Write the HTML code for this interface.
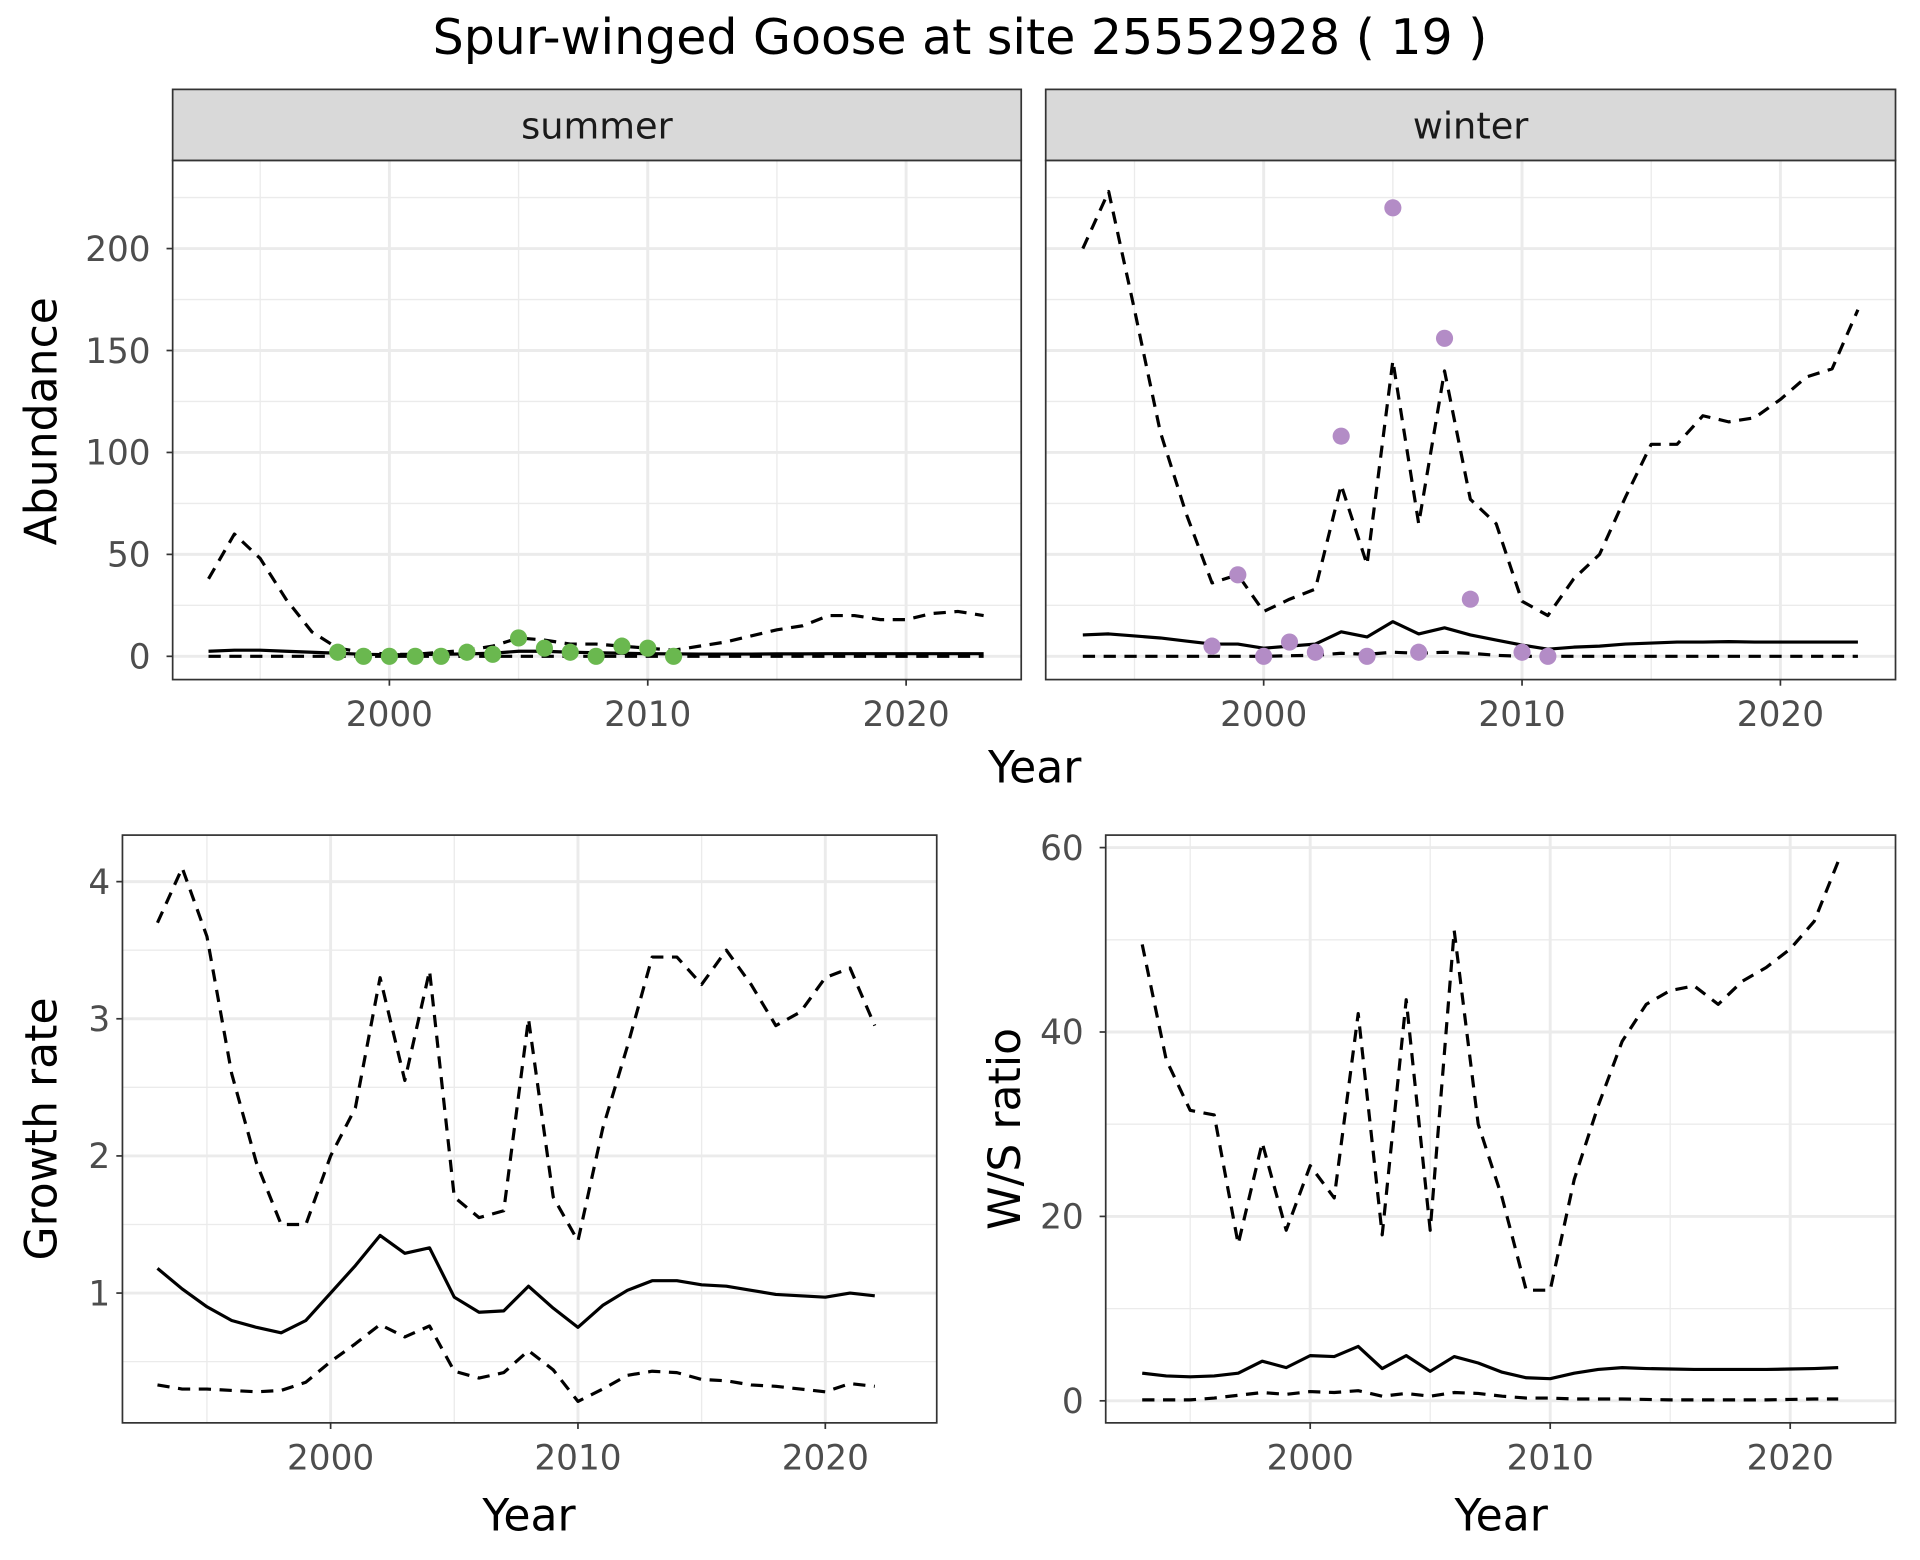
<!DOCTYPE html>
<html><head><meta charset="utf-8"><style>
html,body{margin:0;padding:0;background:#fff;}
svg{display:block;font-family:"DejaVu Sans","Liberation Sans",sans-serif;}
</style></head><body>
<svg id="chart" width="1920" height="1560" viewBox="0 0 1568 1274" xmlns="http://www.w3.org/2000/svg">
<rect width="1568" height="1274" fill="#fff"/>
<text x="784" y="44" text-anchor="middle" font-size="40" fill="#000">Spur-winged Goose at site 25552928 ( 19 )</text>
<g id="root"></g>
</svg>
<script>
const years31 = [1993,1994,1995,1996,1997,1998,1999,2000,2001,2002,2003,2004,2005,2006,2007,2008,2009,2010,2011,2012,2013,2014,2015,2016,2017,2018,2019,2020,2021,2022,2023];
const summerUpper = [38,60,48,28,12,4,2,1,1,2,3,5,9,8,6,6,5,4,3,5,7,10,13,15,20,20,18,18,21,22,20];
const summerMean = [2.5,3,3,2.5,2,1.5,1,0.8,0.8,1,1.2,1.5,2.5,2.5,2,1.8,1.5,1.3,1.2,1.1,1.1,1.1,1.2,1.2,1.3,1.3,1.3,1.3,1.3,1.3,1.3];
const summerLower = [0,0,0,0,0,0,0,0,0,0,0,0,0,0,0,0,0,0,0,0,0,0,0,0,0,0,0,0,0,0,0];
const summerPtYears = [1998,1999,2000,2001,2002,2003,2004,2005,2006,2007,2008,2009,2010,2011];
const summerPtVals = [2,0,0,0,0,2,1,9,4,2,0,5,4,0];
const winterUpper = [200,228,170,110,70,36,40,22,28,33,84,45,145,65,140,77,65,27,20,38,50,78,104,104,118,115,117,126,137,141,170];
const winterMean = [10.5,11,10,9,7.5,6,6,4,5,6,12,9.5,17,11,14,10.5,8,5.5,3.5,4.5,5,6,6.5,7,7,7.2,7,7,7,7,7];
const winterLower = [0,0,0,0,0,0,0,0,0.3,0.5,1.5,1,2,1.5,2,1.5,0.5,0,0,0,0,0,0,0,0,0,0,0,0,0,0];
const winterPtYears = [1998,1999,2000,2001,2002,2003,2004,2005,2006,2007,2008,2010,2011];
const winterPtVals = [5,40,0,7,2,108,0,220,2,156,28,2,0];
const years30 = years31.slice(0,30);
const growthUpper = [3.7,4.1,3.6,2.6,1.95,1.5,1.5,2.0,2.35,3.3,2.55,3.35,1.7,1.55,1.6,3.0,1.7,1.38,2.2,2.8,3.45,3.45,3.25,3.5,3.25,2.95,3.05,3.3,3.37,2.95];
const growthMean = [1.18,1.03,0.9,0.8,0.75,0.71,0.8,1.0,1.2,1.42,1.29,1.33,0.97,0.86,0.87,1.05,0.89,0.75,0.91,1.02,1.09,1.09,1.06,1.05,1.02,0.99,0.98,0.97,1.0,0.98];
const growthLower = [0.33,0.3,0.3,0.29,0.28,0.29,0.35,0.5,0.63,0.77,0.68,0.76,0.43,0.38,0.42,0.58,0.44,0.21,0.3,0.4,0.43,0.42,0.37,0.36,0.33,0.32,0.3,0.28,0.34,0.32];
const wsUpper = [49.5,37,31.5,31,17,28,18.5,25.5,22,42,18,43.5,18.5,51,30,22,12,12,24,32,39,43,44.5,45,43,45.5,47,49,52,58.5];
const wsMean = [3,2.7,2.6,2.7,3,4.3,3.6,4.9,4.8,5.9,3.5,4.9,3.2,4.8,4.1,3.1,2.5,2.4,3,3.4,3.6,3.5,3.45,3.4,3.4,3.4,3.4,3.45,3.5,3.6];
const wsLower = [0.1,0.1,0.1,0.3,0.6,0.9,0.7,1.0,0.9,1.1,0.5,0.8,0.5,0.9,0.8,0.5,0.3,0.3,0.2,0.2,0.2,0.15,0.1,0.1,0.1,0.1,0.1,0.15,0.2,0.2];
const xTicks = [2000,2010,2020];
const xMinor = [1995,2005,2015];
const abTicks = [0,50,100,150,200];
const abMinor = [25,75,125,175,225];
const grTicks = [1,2,3,4];
const grMinor = [0.5,1.5,2.5,3.5];
const wsTicks = [0,20,40,60];
const wsMinor = [10,30,50];

const NS="http://www.w3.org/2000/svg";
const root=document.getElementById('root');
function el(tag,attrs,parent,text){const e=document.createElementNS(NS,tag);for(const k in attrs)e.setAttribute(k,attrs[k]);if(text!==undefined)e.textContent=text;(parent||root).appendChild(e);return e;}

function panel(o){
  const g=el('g',{});
  
  
  const sx=v=>o.x0px+(v-o.x0v)*o.xs;
  const sy=v=>o.y0px-(v-o.y0v)*o.ys;
  o.yMinor.forEach(v=>{const l=el('line',{x1:o.L,x2:o.R,y1:sy(v),y2:sy(v),stroke:'#ebebeb','stroke-width':1.1},g);
    
    });
  xMinor.forEach(v=>{const l=el('line',{x1:sx(v),x2:sx(v),y1:o.T,y2:o.B,stroke:'#ebebeb','stroke-width':1.1},g);
    
    });
  o.yTicks.forEach(v=>{const l=el('line',{x1:o.L,x2:o.R,y1:sy(v),y2:sy(v),stroke:'#ebebeb','stroke-width':2.4},g);
    
    });
  xTicks.forEach(v=>{const l=el('line',{x1:sx(v),x2:sx(v),y1:o.T,y2:o.B,stroke:'#ebebeb','stroke-width':2.4},g);
    
    });
  const draw=(ys,dash,nm)=>{const p=el('polyline',{points:o.years.map((y,i)=>sx(y)+','+sy(ys[i])).join(' '),fill:'none',stroke:'#000','stroke-width':2.6,'stroke-dasharray':dash||'none','stroke-linejoin':'round'},g);
    
    };
  draw(o.lower,'10,7','lower-bound-line');
  draw(o.upper,'10,7','upper-bound-line');
  draw(o.mean,null,'mean-line');
  if(o.ptY){o.ptY.forEach((y,i)=>{const c=el('circle',{cx:sx(y),cy:sy(o.ptV[i]),r:7,fill:o.ptC},g);
    
    });}
  const b=el('rect',{x:o.L,y:o.T,width:o.R-o.L,height:o.B-o.T,fill:'none',stroke:'#333','stroke-width':1.4},g);
  
  
  xTicks.forEach(v=>{el('line',{x1:sx(v),x2:sx(v),y1:o.B,y2:o.B+5,stroke:'#333','stroke-width':1.4},g);
    const t=el('text',{x:sx(v),y:o.B+38,'text-anchor':'middle','font-size':28,fill:'#4d4d4d'},g,String(v));
    
    });
  if(o.showY){o.yTicks.forEach(v=>{el('line',{x1:o.L-5,x2:o.L,y1:sy(v),y2:sy(v),stroke:'#333','stroke-width':1.4},g);
    const t=el('text',{x:o.L-o.gap,y:sy(v)+10,'text-anchor':'end','font-size':28,fill:'#4d4d4d'},g,String(v));
    
    });}
  if(o.strip){const s=el('rect',{x:o.L,y:73,width:o.R-o.L,height:58,fill:'#d9d9d9',stroke:'#333','stroke-width':1.4},g);
    
    
    const t=el('text',{x:(o.L+o.R)/2,y:113,'text-anchor':'middle','font-size':30,fill:'#1a1a1a'},g,o.strip);
    
    }
}

panel({name:'summer-panel',L:141,R:834,T:131,B:555,x0px:318,x0v:2000,xs:21.1,y0px:536,y0v:0,ys:1.665,years:years31,upper:summerUpper,mean:summerMean,lower:summerLower,ptY:summerPtYears,ptV:summerPtVals,ptC:'#6ab84f',yTicks:abTicks,yMinor:abMinor,showY:true,gap:18,strip:'summer'});
panel({name:'winter-panel',L:854,R:1548,T:131,B:555,x0px:1032,x0v:2000,xs:21.1,y0px:536,y0v:0,ys:1.665,years:years31,upper:winterUpper,mean:winterMean,lower:winterLower,ptY:winterPtYears,ptV:winterPtVals,ptC:'#b38cc6',yTicks:abTicks,yMinor:abMinor,showY:false,gap:18,strip:'winter'});
panel({name:'growth-rate-panel',L:100,R:765,T:682,B:1162,x0px:270,x0v:2000,xs:20.2,y0px:1056,y0v:1,ys:112,years:years30,upper:growthUpper,mean:growthMean,lower:growthLower,yTicks:grTicks,yMinor:grMinor,showY:true,gap:10});
panel({name:'ws-ratio-panel',L:903,R:1548,T:682,B:1162,x0px:1070,x0v:2000,xs:19.6,y0px:1144,y0v:0,ys:7.53,years:years30,upper:wsUpper,mean:wsMean,lower:wsLower,yTicks:wsTicks,yMinor:wsMinor,showY:true,gap:18});

function lab(txt,x,y,rot,nm){const t=el('text',{x:x,y:y,'text-anchor':'middle','font-size':36,fill:'#000',transform:rot?`rotate(-90 ${x} ${y})`:''},root,txt);
  
  }
lab('Year',845,639,false,'top-x-axis-title');
lab('Abundance',46,344,true,'abundance-y-axis-title');
lab('Year',432,1250,false,'growth-x-axis-title');
lab('Growth rate',46,922,true,'growth-rate-y-axis-title');
lab('Year',1226,1250,false,'ws-x-axis-title');
lab('W/S ratio',833,922,true,'ws-ratio-y-axis-title');
</script>
</body></html>
